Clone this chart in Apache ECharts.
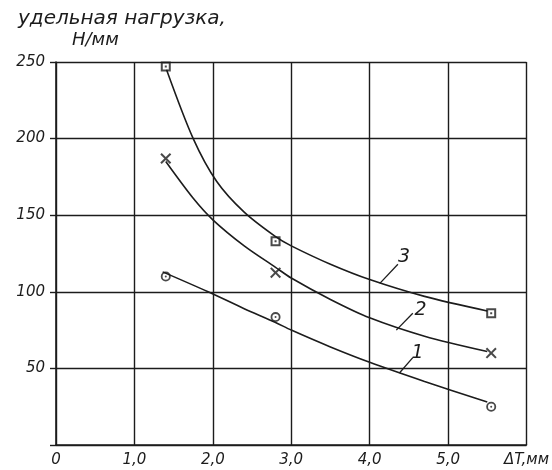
<!DOCTYPE html>
<html><head><meta charset="utf-8">
<script src="https://cdn.jsdelivr.net/npm/echarts@6/dist/echarts.min.js"></script>
<style>html,body{margin:0;padding:0;background:#fff}#c{width:552px;height:470px}</style>
</head><body><div id="c"></div>
<script>
// Tick labels
var xTickLabels = ['0', '1,0', '2,0', '3,0', '4,0', '5,0', 'ΔT,мм'];
var yTickLabels = ['', '50', '100', '150', '200', '250'];
var yTitleLine1 = 'удельная нагрузка,';
var yTitleLine2 = 'Н/мм';

// Measured points
var pointsX = [1.4, 2.8, 5.55];
var series1Y = [110, 83.5, 25];   // circles
var series2Y = [187, 112.5, 60];  // crosses
var series3Y = [247, 133, 86];    // squares

// Fitted curves
var curve1X = [1.36, 1.94, 2.4, 2.8, 3.0, 3.5, 4.0, 4.7, 5.5];
var curve1Y = [113, 100, 89, 80, 75, 64, 54, 41.5, 28];
var curve2X = [1.4, 1.75, 2.0, 2.4, 2.8, 3.0, 3.5, 4.0, 4.7, 5.5];
var curve2Y = [185, 161, 147, 130, 116, 109, 95, 83, 71, 61];
var curve3X = [1.41, 1.75, 2.05, 2.4, 2.8, 3.0, 3.5, 4.0, 4.7, 5.5];
var curve3Y = [245, 200, 172, 152, 136, 130, 118, 108, 97, 87.5];

// Curve number labels with leader lines
var curveNames = ['1', '2', '3'];
var leaderStartX = [4.38, 4.34, 4.13];
var leaderStartY = [47, 75, 105.5];
var leaderEndX = [4.55, 4.55, 4.36];
var leaderEndY = [57, 86, 118];
var nameX = [4.61, 4.65, 4.44];
var nameY = [60, 88, 123];

function zip(xs, ys) { return xs.map(function (x, i) { return [x, ys[i]]; }); }

var ink = '#1c1c1c';
var font = 'DejaVu Sans';
var squareSym = 'path://M0,0 L10,0 L10,10 L0,10 Z M2,2 L2,8 L8,8 L8,2 Z M4,4 L6,4 L6,6 L4,6 Z';
var crossSym = 'path://M0,1.3 L1.3,0 L5,3.7 L8.7,0 L10,1.3 L6.3,5 L10,8.7 L8.7,10 L5,6.3 L1.3,10 L0,8.7 L3.7,5 Z';
var circleSym = 'path://M0,5 A5,5 0 0,1 10,5 A5,5 0 0,1 0,5 Z M1.8,5 A3.2,3.2 0 0,0 8.2,5 A3.2,3.2 0 0,0 1.8,5 Z M4,5 A1,1 0 0,1 6,5 A1,1 0 0,1 4,5 Z';

function curve(xs, ys) {
  return { type: 'line', data: zip(xs, ys), smooth: 0.3, symbol: 'none',
    lineStyle: { color: ink, width: 1.6 }, silent: true, z: 3 };
}
function markers(ys, sym, size) {
  return { type: 'scatter', data: zip(pointsX, ys), symbol: sym, symbolSize: size,
    itemStyle: { color: ink }, z: 4 };
}
var leaders = curveNames.map(function (n, i) {
  return { type: 'line', data: [[leaderStartX[i], leaderStartY[i]], [leaderEndX[i], leaderEndY[i]]],
    symbol: 'none', lineStyle: { color: ink, width: 1.3 }, z: 3 };
});
var nameSeries = {
  type: 'scatter', symbol: 'circle', symbolSize: 2, itemStyle: { color: 'rgba(0,0,0,0)' },
  data: curveNames.map(function (n, i) { return { value: [nameX[i], nameY[i]], name: n }; }),
  label: { show: true, position: 'inside', formatter: '{b}', color: ink, opacity: 1,
    textBorderWidth: 0, fontFamily: font, fontStyle: 'italic', fontSize: 19 },
  labelLayout: { hideOverlap: false }, z: 5
};

var chart = echarts.init(document.getElementById('c'), null, { renderer: 'canvas' });
chart.setOption({
  animation: false,
  backgroundColor: '#ffffff',
  grid: { left: 56, right: 25, top: 62, bottom: 25, containLabel: false },
  graphic: [
    { type: 'text', left: 18, top: 9, style: { text: yTitleLine1, fill: ink,
      font: 'italic 20px "' + font + '"' } },
    { type: 'text', left: 72, top: 31, style: { text: yTitleLine2, fill: ink,
      font: 'italic 18px "' + font + '"' } }
  ],
  xAxis: {
    type: 'value', min: 0, max: 6, interval: 1,
    axisLine: { show: true, lineStyle: { color: ink, width: 1.6 } },
    axisTick: { show: false },
    splitLine: { show: true, lineStyle: { color: ink, width: 1.4 } },
    axisLabel: { margin: 8, color: ink, fontFamily: font, fontStyle: 'italic', fontSize: 15,
      formatter: function (v) { return xTickLabels[Math.round(v)]; } }
  },
  yAxis: {
    type: 'value', min: 0, max: 250, interval: 50,
    axisLine: { show: true, lineStyle: { color: ink, width: 1.6 } },
    axisTick: { show: true, length: 6, lineStyle: { color: ink, width: 1.4 } },
    splitLine: { show: true, lineStyle: { color: ink, width: 1.4 } },
    axisLabel: { margin: 11, color: ink, fontFamily: font, fontStyle: 'italic', fontSize: 15,
      formatter: function (v) { return yTickLabels[Math.round(v / 50)]; } }
  },
  series: [
    curve(curve1X, curve1Y),
    curve(curve2X, curve2Y),
    curve(curve3X, curve3Y),
    markers(series1Y, circleSym, 10),
    markers(series2Y, crossSym, 11),
    markers(series3Y, squareSym, 10),
    nameSeries
  ].concat(leaders)
});
</script></body></html>
